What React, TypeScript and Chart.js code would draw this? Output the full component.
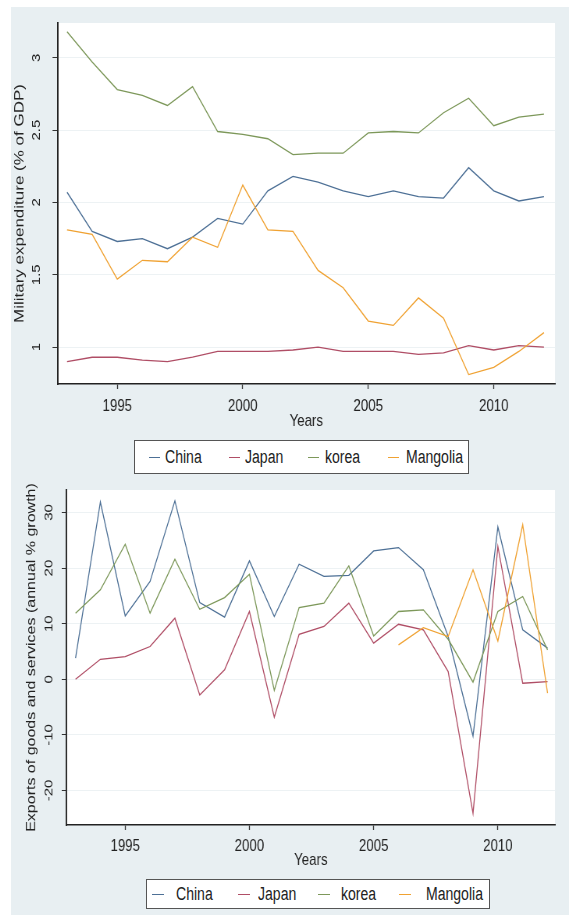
import React, { useEffect, useRef } from 'react';
import { Chart, registerables } from 'chart.js';

Chart.register(...registerables);

// ---------- data ----------
const YEARS = [1993, 1994, 1995, 1996, 1997, 1998, 1999, 2000, 2001, 2002, 2003, 2004, 2005, 2006, 2007, 2008, 2009, 2010, 2011, 2012];
const SERIES_NAMES = ['China', 'Japan', 'korea', 'Mangolia'];
const SERIES_COLORS = ['#4d7096', '#b04e66', '#7d985a', '#f0a232'];

// Military expenditure (% of GDP)
const MIL_CHINA = [2.07, 1.80, 1.73, 1.75, 1.68, 1.76, 1.89, 1.85, 2.08, 2.18, 2.14, 2.08, 2.04, 2.08, 2.04, 2.03, 2.24, 2.08, 2.01, 2.04];
const MIL_JAPAN = [0.90, 0.93, 0.93, 0.91, 0.90, 0.93, 0.97, 0.97, 0.97, 0.98, 1.00, 0.97, 0.97, 0.97, 0.95, 0.96, 1.01, 0.98, 1.01, 1.00];
const MIL_KOREA = [3.18, 2.97, 2.78, 2.74, 2.67, 2.80, 2.49, 2.47, 2.44, 2.33, 2.34, 2.34, 2.48, 2.49, 2.48, 2.62, 2.72, 2.53, 2.59, 2.61];
const MIL_MANGOLIA = [1.81, 1.78, 1.47, 1.60, 1.59, 1.76, 1.69, 2.12, 1.81, 1.80, 1.53, 1.41, 1.18, 1.15, 1.34, 1.20, 0.81, 0.86, 0.97, 1.10];
const MIL_Y_TICKS = [1, 1.5, 2, 2.5, 3];

// Exports of goods and services (annual % growth)
const EXP_CHINA = [3.8, 31.9, 11.4, 17.6, 32.1, 13.8, 11.2, 21.3, 11.3, 20.7, 18.5, 18.7, 23.1, 23.7, 19.7, 7.7, -10.2, 27.4, 8.9, 5.6];
const EXP_JAPAN = [0.0, 3.6, 4.1, 5.9, 11.0, -2.8, 1.7, 12.2, -6.8, 8.1, 9.5, 13.7, 6.5, 9.9, 8.9, 1.4, -24.1, 23.9, -0.7, -0.4];
const EXP_KOREA = [11.9, 16.1, 24.3, 11.9, 21.6, 12.6, 14.7, 18.9, -2.0, 12.9, 13.7, 20.4, 7.8, 12.2, 12.5, 7.2, -0.5, 12.2, 14.9, 5.3];
const EXP_MANGOLIA = [null, null, null, null, null, null, null, null, null, null, null, null, null, 6.2, 9.3, 7.7, 19.7, 6.9, 27.8, -2.5];
const EXP_Y_TICKS = [-20, -10, 0, 10, 20, 30];

const X_TICKS = [1995, 2000, 2005, 2010];

// ---------- styling ----------
const FONT = "'Liberation Sans', Arial, sans-serif";
const PANEL_BG = '#e8eff2';
const TEXT = '#222';
// the original figure is horizontally compressed; charts are drawn wider and squeezed
const SQUEEZE = 0.78;

type PanelProps = {
  series: (number | null)[][];
  yTicks: number[];
  yMin: number;
  yMax: number;
  xMin: number;
  xMax: number;
  yTitle: string;
  yTitleSize: number;
  yAxisWidth: number;
  yTickPad: number;
  yTitlePad: number;
  padTop: number;
  padRight: number;
  padBottom: number;
  xAxisHeight: number;
  xTickPad: number;
  innerWidth: number;
  width: number;
  height: number;
  left: number;
  top: number;
};

const plotBg = {
  id: 'plotBg',
  beforeDraw(chart: any) {
    const { ctx, chartArea } = chart;
    ctx.save();
    ctx.fillStyle = '#ffffff';
    ctx.fillRect(chartArea.left, chartArea.top, chartArea.right - chartArea.left, chartArea.bottom - chartArea.top);
    ctx.restore();
  },
};

function Panel(p: PanelProps) {
  const ref = useRef<HTMLCanvasElement | null>(null);
  useEffect(() => {
    if (!ref.current) return;
    const datasets = p.series.map((vals, i) => ({
      label: SERIES_NAMES[i],
      data: YEARS.map((yr, j) => ({ x: yr, y: vals[j] })),
      borderColor: SERIES_COLORS[i],
      backgroundColor: SERIES_COLORS[i],
      borderWidth: 1.3,
      pointRadius: 0,
      tension: 0,
      fill: false,
      spanGaps: false,
      order: 3 - i,
    }));
    const chart = new Chart(ref.current, {
      type: 'line',
      data: { datasets },
      plugins: [plotBg],
      options: {
        animation: false,
        responsive: false,
        maintainAspectRatio: false,
        devicePixelRatio: 1,
        events: [],
        layout: { padding: { top: p.padTop, right: p.padRight, bottom: p.padBottom, left: 0 } },
        plugins: { legend: { display: false }, tooltip: { enabled: false } },
        scales: {
          x: {
            type: 'linear',
            min: p.xMin,
            max: p.xMax,
            afterBuildTicks: (s: any) => { s.ticks = X_TICKS.map((v) => ({ value: v })); },
            afterFit: (s: any) => { s.height = p.xAxisHeight; s.paddingLeft = 0; s.paddingRight = 0; },
            ticks: {
              callback: (v: any) => String(v),
              font: { family: FONT, size: 17 },
              color: TEXT,
              padding: p.xTickPad,
              maxRotation: 0,
              autoSkip: false,
            },
            grid: { drawOnChartArea: false, drawTicks: true, tickLength: 5, tickColor: '#333', tickWidth: 1.3 },
            border: { color: '#222', width: 1.5 },
            title: { display: true, text: 'Years', font: { family: FONT, size: 17 }, color: TEXT, padding: 0 },
          },
          y: {
            type: 'linear',
            min: p.yMin,
            max: p.yMax,
            afterBuildTicks: (s: any) => { s.ticks = p.yTicks.map((v) => ({ value: v })); },
            afterFit: (s: any) => { s.width = p.yAxisWidth; s.paddingTop = 0; s.paddingBottom = 0; },
            ticks: {
              callback: (v: any) => String(v),
              font: { family: FONT, size: 15 },
              color: TEXT,
              padding: p.yTickPad,
              minRotation: 90,
              maxRotation: 90,
              crossAlign: 'center',
              autoSkip: false,
            },
            grid: { color: '#edf2f4', lineWidth: 1, drawTicks: true, tickLength: 6.4, tickColor: '#333', tickWidth: 1 },
            border: { color: '#222', width: 1.9 },
            title: {
              display: true,
              text: p.yTitle,
              font: { family: FONT, size: p.yTitleSize },
              color: TEXT,
              padding: { top: p.yTitlePad, bottom: 0 },
            },
          },
        },
      } as any,
    });
    return () => chart.destroy();
  }, []);
  return (
    <canvas
      ref={ref}
      width={p.innerWidth}
      height={p.height}
      style={{ position: 'absolute', left: p.left, top: p.top, width: p.width, height: p.height }}
    />
  );
}

type LegendProps = {
  left: number;
  top: number;
  width: number;
  height: number;
  lineLefts: number[];
  textLefts: number[];
  lineLen: number;
  fontSize: number;
};

function Legend(l: LegendProps) {
  return (
    <div
      style={{
        position: 'absolute',
        left: l.left,
        top: l.top,
        width: l.width,
        height: l.height,
        border: '1px solid #555',
        background: '#fff',
        boxSizing: 'border-box',
      }}
    >
      {SERIES_NAMES.map((name, i) => (
        <React.Fragment key={name}>
          <div
            style={{
              position: 'absolute',
              left: l.lineLefts[i],
              top: Math.round((l.height - 2) / 2),
              width: l.lineLen,
              height: 0,
              borderTop: `1.5px solid ${SERIES_COLORS[i]}`,
            }}
          />
          <span
            style={{
              position: 'absolute',
              left: l.textLefts[i],
              top: 0,
              lineHeight: `${l.height - 2}px`,
              fontFamily: FONT,
              fontSize: l.fontSize,
              color: TEXT,
              whiteSpace: 'nowrap',
              display: 'inline-block',
              transform: `scaleX(${SQUEEZE})`,
              transformOrigin: '0 50%',
            }}
          >
            {name}
          </span>
        </React.Fragment>
      ))}
    </div>
  );
}

export default function App() {
  return (
    <div style={{ position: 'absolute', left: 0, top: 0, width: 569, height: 917, background: '#fff', overflow: 'hidden' }}>
      <div style={{ position: 'absolute', left: 11, top: 7, width: 558, height: 908, background: PANEL_BG }} />
      <Panel
        series={[MIL_CHINA, MIL_JAPAN, MIL_KOREA, MIL_MANGOLIA]}
        yTicks={MIL_Y_TICKS}
        yMin={0.745}
        yMax={3.24}
        xMin={1992.62}
        xMax={2012.44}
        yTitle="Military expenditure (% of GDP)"
        yTitleSize={17}
        yAxisWidth={59.58}
        yTickPad={9.45}
        yTitlePad={1.3}
        padTop={16}
        padRight={17.94}
        padBottom={50.3}
        xAxisHeight={47.7}
        xTickPad={7}
        innerWidth={715}
        width={558}
        height={475}
        left={11}
        top={7}
      />
      <Legend
        left={134}
        top={440}
        width={335}
        height={34}
        lineLefts={[14, 94, 173, 253]}
        textLefts={[30, 110, 190, 271]}
        lineLen={11}
        fontSize={18}
      />
      <Panel
        series={[EXP_CHINA, EXP_JAPAN, EXP_KOREA, EXP_MANGOLIA]}
        yTicks={EXP_Y_TICKS}
        yMin={-26.2}
        yMax={34.05}
        xMin={1992.646}
        xMax={2012.3}
        yTitle="Exports of goods and services (annual % growth)"
        yTitleSize={16}
        yAxisWidth={71.4}
        yTickPad={4.86}
        yTitlePad={16.9}
        padTop={8}
        padRight={17.94}
        padBottom={44.1}
        xAxisHeight={45.9}
        xTickPad={6}
        innerWidth={715}
        width={558}
        height={433}
        left={11}
        top={482}
      />
      <Legend
        left={146}
        top={879}
        width={344}
        height={30}
        lineLefts={[5, 91, 171, 252]}
        textLefts={[29, 111, 194, 279]}
        lineLen={12}
        fontSize={18}
      />
    </div>
  );
}
